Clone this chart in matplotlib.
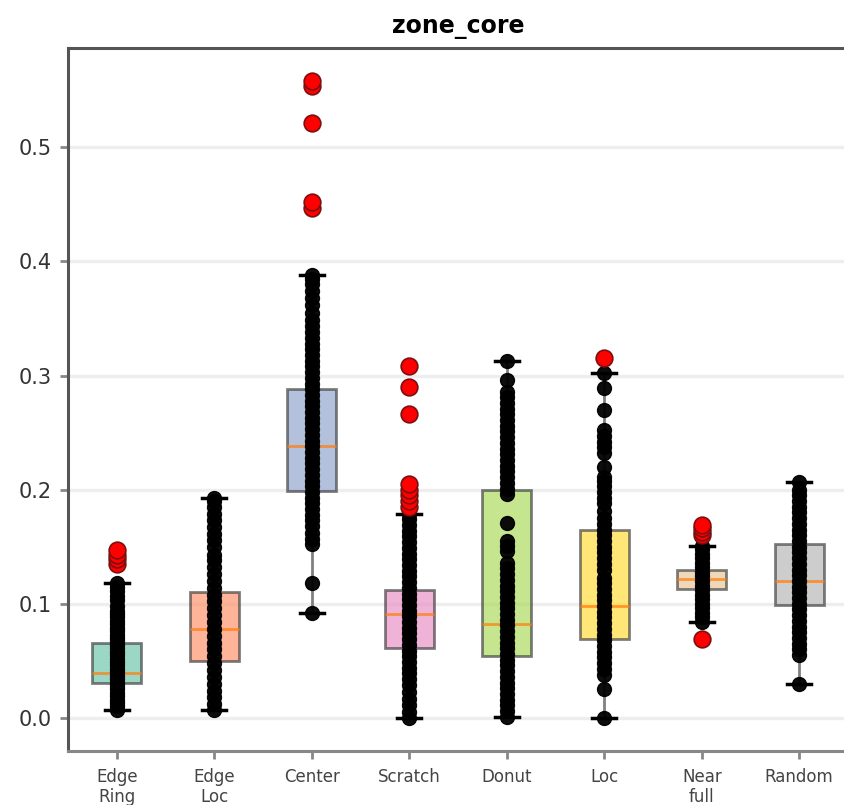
import matplotlib
matplotlib.use("Agg")
import matplotlib.pyplot as plt

categories = ["Edge\nRing", "Edge\nLoc", "Center", "Scratch", "Donut", "Loc", "Near\nfull", "Random"]
box_colors = ["#66c2a5", "#fc8d62", "#8da0cb", "#e78ac3", "#a6d854", "#ffd92f", "#e5c494", "#b3b3b3"]

# box statistics
q1 = [0.031, 0.050, 0.199, 0.061, 0.054, 0.069, 0.113, 0.099]
med = [0.039, 0.078, 0.238, 0.091, 0.082, 0.098, 0.122, 0.120]
q3 = [0.066, 0.110, 0.288, 0.112, 0.200, 0.165, 0.130, 0.152]
whislo = [0.007, 0.007, 0.092, 0.000, 0.001, 0.000, 0.084, 0.030]
whishi = [0.118, 0.193, 0.388, 0.179, 0.313, 0.302, 0.151, 0.207]
fliers = [
    [0.135, 0.139, 0.143, 0.147],
    [],
    [0.447, 0.452, 0.521, 0.554, 0.558],
    [0.185, 0.190, 0.195, 0.200, 0.205, 0.266, 0.290, 0.308],
    [],
    [0.315],
    [0.069, 0.160, 0.163, 0.166, 0.169],
    [],
]

# individual points (black)
edge_ring_pts = [0.007, 0.010, 0.013, 0.016, 0.019, 0.022, 0.025, 0.028, 0.031, 0.034, 0.037, 0.040,
                 0.043, 0.046, 0.049, 0.052, 0.055, 0.058, 0.061, 0.064, 0.067, 0.070, 0.073, 0.076,
                 0.079, 0.082, 0.085, 0.088, 0.091, 0.094, 0.098, 0.103, 0.107, 0.111, 0.115, 0.118]
edge_loc_pts = [0.007, 0.012, 0.018, 0.024, 0.030, 0.036, 0.042, 0.048, 0.054, 0.060, 0.066, 0.072,
                0.078, 0.084, 0.090, 0.096, 0.102, 0.108, 0.114, 0.120, 0.126, 0.132, 0.138, 0.143,
                0.150, 0.156, 0.161, 0.167, 0.173, 0.179, 0.185, 0.190, 0.193]
center_pts = [0.092, 0.118, 0.152, 0.157, 0.162, 0.168, 0.173, 0.178, 0.183, 0.188, 0.193, 0.198,
              0.203, 0.208, 0.213, 0.218, 0.223, 0.228, 0.233, 0.238, 0.243, 0.248, 0.253, 0.258,
              0.263, 0.268, 0.273, 0.278, 0.283, 0.288, 0.293, 0.298, 0.303, 0.308, 0.313, 0.318,
              0.323, 0.328, 0.333, 0.338, 0.343, 0.349, 0.355, 0.362, 0.368, 0.374, 0.380, 0.385, 0.388]
scratch_pts = [0.000, 0.005, 0.011, 0.017, 0.023, 0.029, 0.034, 0.039, 0.044, 0.049, 0.054, 0.059,
               0.064, 0.069, 0.074, 0.079, 0.084, 0.089, 0.094, 0.099, 0.104, 0.109, 0.114, 0.119,
               0.124, 0.129, 0.134, 0.139, 0.144, 0.149, 0.154, 0.159, 0.164, 0.169, 0.174, 0.179]
donut_pts = [0.001, 0.006, 0.011, 0.016, 0.021, 0.026, 0.031, 0.036, 0.041, 0.046, 0.051, 0.056,
             0.061, 0.066, 0.071, 0.076, 0.081, 0.086, 0.091, 0.096, 0.101, 0.106, 0.111, 0.116,
             0.121, 0.126, 0.131, 0.136, 0.146, 0.151, 0.155, 0.171, 0.196, 0.201, 0.206, 0.211,
             0.216, 0.221, 0.226, 0.231, 0.236, 0.241, 0.246, 0.251, 0.256, 0.261, 0.266, 0.271,
             0.276, 0.281, 0.286, 0.296, 0.313]
loc_pts = [0.000, 0.025, 0.038, 0.043, 0.048, 0.053, 0.058, 0.063, 0.068, 0.073, 0.078, 0.083,
           0.088, 0.093, 0.098, 0.103, 0.108, 0.113, 0.118, 0.123, 0.130, 0.135, 0.140, 0.145,
           0.150, 0.155, 0.160, 0.165, 0.170, 0.175, 0.181, 0.188, 0.193, 0.198, 0.203, 0.208,
           0.211, 0.220, 0.232, 0.237, 0.242, 0.247, 0.252, 0.270, 0.289, 0.302]
near_full_pts = [0.084, 0.088, 0.092, 0.096, 0.100, 0.104, 0.108, 0.112, 0.116, 0.120, 0.124,
                 0.128, 0.132, 0.136, 0.140, 0.144, 0.148, 0.151]
random_pts = [0.030, 0.055, 0.060, 0.065, 0.070, 0.075, 0.080, 0.085, 0.090, 0.095, 0.100, 0.105,
              0.110, 0.115, 0.120, 0.125, 0.130, 0.135, 0.140, 0.145, 0.150, 0.155, 0.160, 0.165,
              0.170, 0.175, 0.180, 0.185, 0.190, 0.195, 0.200, 0.207]
points = [edge_ring_pts, edge_loc_pts, center_pts, scratch_pts, donut_pts, loc_pts, near_full_pts, random_pts]

title = "zone_core"
yticks = [0.0, 0.1, 0.2, 0.3, 0.4, 0.5]

fig = plt.figure(figsize=(8.45, 8.05), dpi=100)
ax = fig.add_axes([68 / 845, 54 / 805, 780 / 845, 703 / 805])

positions = list(range(1, len(categories) + 1))
stats = []
for i in range(len(categories)):
    stats.append(dict(q1=q1[i], med=med[i], q3=q3[i], whislo=whislo[i], whishi=whishi[i],
                      fliers=[], label=categories[i]))

bp = ax.bxp(stats, positions=positions, widths=0.5, patch_artist=True, showfliers=False,
            boxprops=dict(linewidth=2, edgecolor="#3a3a3a"),
            medianprops=dict(color="#ff7f0e", linewidth=2, alpha=0.75),
            whiskerprops=dict(color="#808080", linewidth=2),
            capprops=dict(color="black", linewidth=2.5),
            manage_ticks=False)
for patch, c in zip(bp["boxes"], box_colors):
    patch.set_facecolor(c)
    patch.set_alpha(0.65)
    patch.set_zorder(2)

for pos, pts in zip(positions, points):
    ax.plot([pos] * len(pts), pts, "o", color="black", markersize=10, alpha=0.95,
            markeredgewidth=1, zorder=3)

for pos, fl in zip(positions, fliers):
    if fl:
        ax.plot([pos] * len(fl), fl, "o", markerfacecolor="red", markeredgecolor="#7a1010",
                markersize=12, markeredgewidth=1.2, zorder=4)

ax.set_xlim(0.5, 8.5)
ax.set_ylim(-0.029, 0.587)
ax.set_xticks(positions)
ax.set_xticklabels(categories, fontsize=12, color="#444444", linespacing=1.15)
ax.set_yticks(yticks)
ax.set_yticklabels([f"{v:.1f}" for v in yticks], fontsize=15, color="#333333")
ax.tick_params(axis="both", length=6, width=2, color="#888888", pad=6)
ax.yaxis.grid(True, color="#eeeeee", linewidth=2.5)
ax.set_axisbelow(True)

for s in ["left", "top"]:
    ax.spines[s].set_color("#555555")
    ax.spines[s].set_linewidth(2.2)
ax.spines["right"].set_visible(False)
ax.spines["bottom"].set_color("#888888")
ax.spines["bottom"].set_linewidth(2.2)

ax.set_title(title, fontsize=17, fontweight="bold", pad=11)

fig.savefig("out.png", dpi=100)
